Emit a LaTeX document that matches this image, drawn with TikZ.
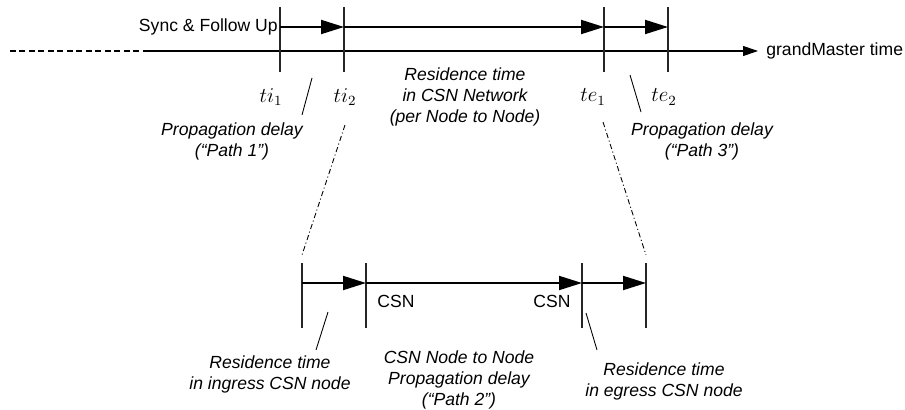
\documentclass[tikz,border=0pt]{standalone}
\usepackage{fontspec}
\setmainfont{Liberation Sans}
\usetikzlibrary{arrows.meta,positioning}

\begin{document}
\begin{tikzpicture}[
    x=0.02cm, y=-0.02cm,
    tick/.style={line width=0.6pt, black!85},
    flow/.style={-{Triangle[length=4.6mm,width=2.8mm]}, line width=1.1pt},
    pointer/.style={line width=0.5pt},
    zoomline/.style={line width=0.5pt, dash pattern=on 3pt off 1.5pt on 0.6pt off 1.5pt},
    note/.style={font=\itshape, align=center, inner sep=0pt},
    stamp/.style={font=\large, inner sep=0pt}
]
\useasboundingbox (0,0) rectangle (905,409);

% grandMaster time line
\coordinate (gm0) at (10,51);
\coordinate (gm1) at (145,51);
\coordinate (gm2) at (758,51);
\draw[line width=0.6pt, dash pattern=on 3.4pt off 2pt] (gm0) -- (gm1);
\draw[line width=0.6pt, -{Triangle[length=3mm,width=2mm]}] (gm1) -- (gm2);
\node[anchor=west, inner sep=0pt] (gmtext) at (766,51) {grandMaster time};

% Upper ticks
\coordinate (ti1top) at (280,7);  \coordinate (ti1bot) at (280,72);
\coordinate (ti2top) at (344,7);  \coordinate (ti2bot) at (344,72);
\coordinate (te1top) at (604,7);  \coordinate (te1bot) at (604,72);
\coordinate (te2top) at (668,7);  \coordinate (te2bot) at (668,72);
\draw[tick] (ti1top) -- (ti1bot);
\draw[tick] (ti2top) -- (ti2bot);
\draw[tick] (te1top) -- (te1bot);
\draw[tick] (te2top) -- (te2bot);

% Sync & Follow Up
\coordinate (u1) at (280,27);
\coordinate (u2) at (344,27);
\coordinate (u3) at (604,27);
\coordinate (u4) at (668,27);
\node[anchor=east, inner sep=0pt] (sync) at (278,27) {Sync \& Follow Up};
\draw[flow] (u1) -- (u2);
\draw[flow] (u2) -- (u3);
\draw[flow] (u3) -- (u4);

% Time stamps
\node[stamp] (ti1) at (271,97) {$ti_1$};
\node[stamp] (ti2) at (345,97) {$ti_2$};
\node[stamp] (te1) at (593,97) {$te_1$};
\node[stamp] (te2) at (664,97) {$te_2$};

% Upper notes
\node[note] (path1) at (232,141) {Propagation delay\\(“Path 1\symbol{34})};
\node[note] (csnnet) at (465,97) {Residence time\\in CSN Network\\(per Node to Node)};
\node[note] (path3) at (702,141) {Propagation delay\\(“Path 3”)};
\coordinate (p1a) at (312,78);  \coordinate (p1b) at (302,115);
\coordinate (p3a) at (630,75);  \coordinate (p3b) at (641,112);
\draw[pointer] (p1a) -- (p1b);
\draw[pointer] (p3a) -- (p3b);

% Zoom lines
\coordinate (zl1) at (345,125);  \coordinate (zl2) at (302,255);
\coordinate (zr1) at (603,122);  \coordinate (zr2) at (646,255);
\draw[zoomline] (zl1) -- (zl2);
\draw[zoomline] (zr1) -- (zr2);

% Lower ticks
\coordinate (l1top) at (302,263);  \coordinate (l1bot) at (302,328);
\coordinate (l2top) at (366,263);  \coordinate (l2bot) at (366,328);
\coordinate (l3top) at (582,263);  \coordinate (l3bot) at (582,328);
\coordinate (l4top) at (646,263);  \coordinate (l4bot) at (646,328);
\draw[tick] (l1top) -- (l1bot);
\draw[tick] (l2top) -- (l2bot);
\draw[tick] (l3top) -- (l3bot);
\draw[tick] (l4top) -- (l4bot);

% Lower arrows
\coordinate (d1) at (302,283);
\coordinate (d2) at (366,283);
\coordinate (d3) at (582,283);
\coordinate (d4) at (646,283);
\draw[flow] (d1) -- (d2);
\draw[flow] (d2) -- (d3);
\draw[flow] (d3) -- (d4);

% CSN labels
\node[inner sep=0pt] (csnin) at (396,301) {CSN};
\node[inner sep=0pt] (csnout) at (552,301) {CSN};

% Lower notes
\node[note] (ingress) at (270,374) {Residence time\\in ingress CSN node};
\node[note] (path2) at (459,380) {CSN Node to Node\\Propagation delay\\(“Path 2\symbol{34})};
\node[note] (egress) at (664,381) {Residence time\\in egress CSN node};
\coordinate (q1a) at (328,312);  \coordinate (q1b) at (316,350);
\coordinate (q2a) at (586,313);  \coordinate (q2b) at (597,350);
\draw[pointer] (q1a) -- (q1b);
\draw[pointer] (q2a) -- (q2b);

\end{tikzpicture}
\end{document}
